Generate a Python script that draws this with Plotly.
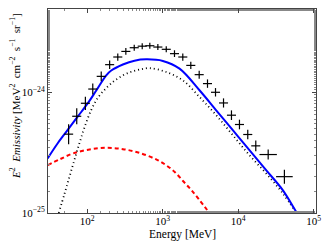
import numpy as np
import plotly.graph_objects as go

# ---- data ----
data_E = [57, 73, 95, 119, 154, 199, 255, 326, 421, 537, 677, 865, 1117, 1436,
          1849, 2360, 3048, 3926, 5012, 6397, 8150, 10400, 13390, 17100, 24950, 40900]
data_y = [4.50e-25, 6.33e-25, 8.11e-25, 1.064e-24, 1.355e-24, 1.694e-24, 1.96e-24,
          2.18e-24, 2.34e-24, 2.41e-24, 2.43e-24, 2.37e-24, 2.27e-24, 2.09e-24,
          1.96e-24, 1.67e-24, 1.40e-24, 1.18e-24, 1.00e-24, 8.16e-25, 6.46e-25,
          5.41e-25, 4.47e-25, 3.60e-25, 3.05e-25, 2.00e-25]
# error half-widths in dex
data_yerr_dex = [0.083, 0.066, 0.055, 0.045, 0.04, 0.035, 0.03, 0.028, 0.025, 0.025,
                 0.025, 0.025, 0.025, 0.028, 0.03, 0.03, 0.033, 0.035, 0.035, 0.038,
                 0.04, 0.04, 0.04, 0.045, 0.042, 0.058]
data_xerr_dex = [0.06, 0.06, 0.06, 0.06, 0.06, 0.06, 0.06, 0.06, 0.06, 0.06, 0.06,
                 0.06, 0.06, 0.06, 0.06, 0.06, 0.06, 0.06, 0.06, 0.06, 0.06, 0.06,
                 0.06, 0.06, 0.115, 0.11]

total_logE = [1.478, 1.614, 1.746, 1.878, 2.011, 2.122, 2.254, 2.320, 2.474, 2.628,
              2.783, 3.003, 3.224, 3.488, 3.709, 3.929, 4.149, 4.370, 4.590, 4.767, 4.80]
total_logY = [-24.548, -24.42, -24.31, -24.20, -24.09, -23.985, -23.86, -23.82, -23.77,
              -23.738, -23.727, -23.740, -23.804, -23.983, -24.149, -24.314, -24.479,
              -24.645, -24.810, -24.989, -25.02]

pion_logE = [1.625, 1.702, 1.767, 1.835, 1.901, 1.967, 2.056, 2.143, 2.254, 2.362,
             2.474, 2.584, 2.694, 2.827, 3.048, 3.267, 3.488, 3.709, 3.929, 4.149,
             4.370, 4.590, 4.767]
pion_logY = [-25.0, -24.84, -24.70, -24.555, -24.418, -24.29, -24.145, -24.045, -23.965,
             -23.905, -23.86, -23.83, -23.812, -23.800, -23.832, -23.901, -24.039,
             -24.190, -24.355, -24.521, -24.672, -24.837, -24.998]

brems_logE = [1.481, 1.636, 1.812, 2.033, 2.254, 2.474, 2.694, 2.915, 3.048, 3.160,
              3.270, 3.380, 3.488, 3.620]
brems_logY = [-24.603, -24.556, -24.507, -24.474, -24.460, -24.471, -24.502, -24.556,
              -24.605, -24.660, -24.735, -24.810, -24.893, -25.0]

x_tickvals = [1e2, 1e3, 1e4, 1e5]
x_ticktext = ["10<sup>2</sup>", "10<sup>3</sup>", "10<sup>4</sup>", "10<sup>5</sup>"]
y_tickvals = [1e-25, 1e-24]
y_ticktext = ["10<sup>−25</sup>", "10<sup>−24</sup>"]

# ---- derived ----
y = np.array(data_y)
E = np.array(data_E, dtype=float)
dy = np.array(data_yerr_dex)
dx = np.array(data_xerr_dex)
y_hi = y * (10 ** dy - 1)
y_lo = y * (1 - 10 ** (-dy))
x_hi = E * (10 ** dx - 1)
x_lo = E * (1 - 10 ** (-dx))

fig = go.Figure()

fig.add_trace(go.Scatter(
    x=10 ** np.array(brems_logE), y=10 ** np.array(brems_logY), mode="lines",
    line=dict(color="#ff0000", width=2, dash="4px,3px"), line_shape="spline"))
fig.add_trace(go.Scatter(
    x=10 ** np.array(pion_logE), y=10 ** np.array(pion_logY), mode="lines",
    line=dict(color="black", width=1.8, dash="1px,3px"), line_shape="spline"))
fig.add_trace(go.Scatter(
    x=10 ** np.array(total_logE), y=10 ** np.array(total_logY), mode="lines",
    line=dict(color="#0000ff", width=2), line_shape="spline"))
fig.add_trace(go.Scatter(
    x=E, y=y, mode="markers", marker=dict(size=1, color="black"),
    error_y=dict(type="data", symmetric=False, array=y_hi, arrayminus=y_lo,
                 color="black", thickness=1.2, width=0),
    error_x=dict(type="data", symmetric=False, array=x_hi, arrayminus=x_lo,
                 color="black", thickness=1.2, width=0)))

font_family = "Liberation Serif, DejaVu Serif, serif"
axis_common = dict(type="log", showgrid=False, zeroline=False, showline=True,
                   linecolor="#444", linewidth=1, mirror="ticks", ticks="inside",
                   ticklen=4, tickcolor="#444",
                   minor=dict(ticks="inside", ticklen=2, tickcolor="#888"),
                   tickfont=dict(family=font_family, size=11, color="black"))

fig.update_layout(
    width=332, height=249,
    margin=dict(l=48, r=16, t=9, b=36),
    paper_bgcolor="white", plot_bgcolor="white",
    showlegend=False,
    font=dict(family=font_family, color="black"),
    xaxis=dict(**axis_common, range=[1.483, 5.03], tickvals=x_tickvals,
               ticktext=x_ticktext, ticklabelstandoff=-2),
    yaxis=dict(**axis_common, range=[-25, -23.31], tickvals=y_tickvals,
               ticktext=y_ticktext),
)

fig.add_annotation(
    text="Energy [MeV]", xref="paper", yref="paper", x=0.5, y=-0.105,
    showarrow=False, xanchor="center", yanchor="middle",
    font=dict(family=font_family, size=11.5, color="black"))

fig.add_annotation(
    text="<i>E</i><sup>2</sup>  <i>Emissivity</i> [MeV<sup>2</sup>  cm<sup>−2</sup>  s<sup>−1</sup>  sr<sup>−1</sup>]",
    xref="paper", yref="paper", x=-0.123, y=0.574, textangle=-90,
    showarrow=False, xanchor="center", yanchor="middle",
    font=dict(family=font_family, size=11, color="black"))

fig.write_html("out.html", config={"displayModeBar": False},
               post_script="document.body.style.margin='0';")
